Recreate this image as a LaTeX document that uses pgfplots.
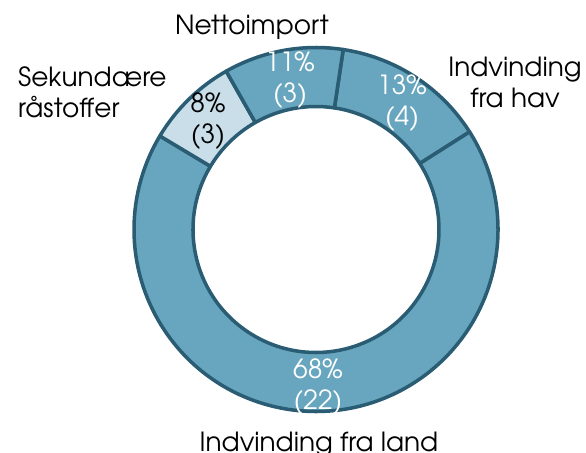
\documentclass[border=0pt]{standalone}
\usepackage{fontspec}
\setmainfont{TeX Gyre Adventor}
\usepackage{pgfplots}
\usepackage{pgfplotstable}
\pgfplotsset{compat=1.18}

\definecolor{ring}{HTML}{67A6BE}
\definecolor{ringlight}{HTML}{C9DEE9}
\definecolor{edge}{HTML}{2A5D74}

% share in percent, clockwise from the top
\pgfplotstableread{
share  count
13.6   4
67.6   22
8.2    3
10.6   3
}\shares

\begin{document}
\begin{tikzpicture}
\begin{axis}[
    x=0.03cm, y=0.03cm,
    xmin=0, xmax=586, ymin=0, ymax=453,
    hide axis, clip=false,
    scale only axis,
]
\def\cx{316}\def\cy{223.5}
\def\Ro{182}\def\Ri{123}
\xdef\start{81.4}
\foreach \i/\col in {0/ring, 1/ring, 2/ringlight, 3/ring} {
    \pgfplotstablegetelem{\i}{share}\of\shares
    \pgfmathsetmacro{\a}{\start}
    \pgfmathsetmacro{\b}{\start-3.6*\pgfplotsretval}
    \edef\temp{\noexpand\filldraw[fill=\col, draw=edge, line width=3pt, line join=round]
        (axis cs:{\cx+\Ro*cos(\a)},{\cy+\Ro*sin(\a)})
        arc[start angle=\a, end angle=\b, radius={\Ro*0.03cm}]
        -- (axis cs:{\cx+\Ri*cos(\b)},{\cy+\Ri*sin(\b)})
        arc[start angle=\b, end angle=\a, radius={\Ri*0.03cm}]
        -- cycle;}
    \temp
    \global\let\start\b
}
% base anchor of a two-line node sits on the last line
\begin{scope}[font=\fontsize{22.5}{26.5}\selectfont]
\node[white, align=center, anchor=base] at (axis cs:290,350) {11\%\\(3)};
\node[white, align=center, anchor=base] at (axis cs:402,327) {13\%\\(4)};
\node[black, align=center, anchor=base] at (axis cs:208,309) {8\%\\(3)};
\node[white, align=center, anchor=base] at (axis cs:318,43) {68\%\\(22)};
\node[anchor=base] at (axis cs:252,418) {Nettoimport};
\node[align=left, anchor=base west] at (axis cs:14,335) {Sekundære\\råstoffer};
\node[align=center, anchor=base] at (axis cs:515,345) {Indvinding\\fra hav};
\node[anchor=base] at (axis cs:319,1) {Indvinding fra land};
\end{scope}
\end{axis}
\pgfresetboundingbox
\path (current axis.south west) rectangle (current axis.north east);
\end{tikzpicture}
\end{document}
